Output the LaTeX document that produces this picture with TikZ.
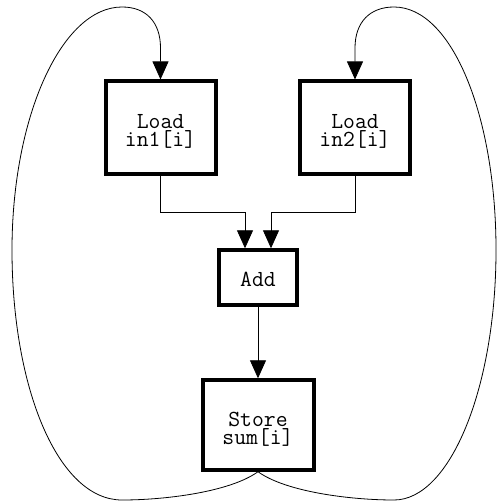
\documentclass[tikz,border=0pt]{standalone}
\usetikzlibrary{arrows.meta}

\tikzset{
  opbox/.style={draw=black, line width=4pt, fill=white, inner sep=0pt},
  optext/.style={align=center, inner sep=0pt,
    font=\ttfamily\fontsize{23}{18}\selectfont},
  flow/.style={draw=black, line width=0.8pt,
    -{Triangle[length=18pt,width=16pt]}},
}

\begin{document}
\begin{tikzpicture}[x=1pt,y=-1pt]
  \useasboundingbox (0,0) rectangle (497,502);

  % operation boxes
  \node[opbox, minimum width=110pt, minimum height=92.5pt] (load1) at (160.5,127.7) {};
  \node[opbox, minimum width=110pt, minimum height=92.5pt] (load2) at (355,127.7) {};
  \node[opbox, minimum width=78pt, minimum height=54.4pt] (add) at (258,277.5) {};
  \node[opbox, minimum width=111pt, minimum height=89.4pt] (store) at (258,425) {};

  % their labels, set a little below the centre
  \node[optext] (load1t) at ([yshift=-3.5pt]load1.center) {Load\\in1[i]};
  \node[optext] (load2t) at ([yshift=-3.5pt]load2.center) {Load\\in2[i]};
  \node[optext] (addt) at ([yshift=-2pt]add.center) {Add};
  \node[optext] (storet) at ([yshift=-4pt]store.center) {Store\\sum[i]};

  % inputs of the adder
  \coordinate (bus) at (0,212);
  \coordinate (in1) at ([xshift=-13pt]add.north);
  \coordinate (in2) at ([xshift=13pt]add.north);
  \draw[flow] (load1.south) |- (bus -| in1) -- (in1);
  \draw[flow] (load2.south) |- (bus -| in2) -- (in2);

  % adder to store
  \draw[flow] (add.south) -- (store.north);

  % loop back edges to the loads
  \draw[flow] (store.south)
    .. controls (230,492) and (165,500) .. (122,500)
    .. controls (58,500) and (12,388) .. (12,250)
    .. controls (12,116) and (62,7) .. (122,7)
    .. controls (146,7) and (160.5,22) .. (160.5,48)
    -- (load1.north);
  \draw[flow] (store.south)
    .. controls (286,492) and (351,500) .. (394,500)
    .. controls (450,500) and (496,388) .. (496,250)
    .. controls (496,116) and (452,7) .. (394,7)
    .. controls (370,7) and (355,22) .. (355,48)
    -- (load2.north);
\end{tikzpicture}
\end{document}
